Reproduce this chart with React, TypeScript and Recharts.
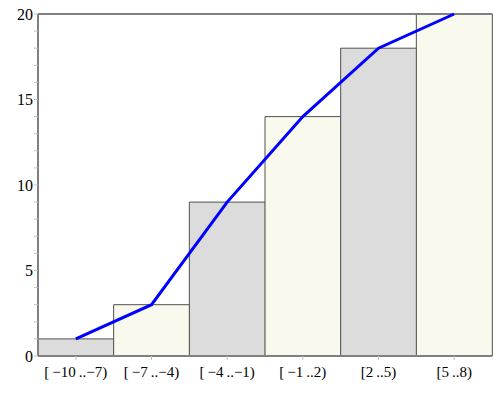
import { ComposedChart, Bar, Line, XAxis, YAxis, Cell, ReferenceLine } from "recharts";

document.body.style.margin = "0";

const categories = [
  "[\u2009\u221210\u2009..\u22127)",
  "[\u2009\u22127\u2009..\u22124)",
  "[\u2009\u22124\u2009..\u22121)",
  "[\u2009\u22121\u2009..2)",
  "[2\u2009..5)",
  "[5\u2009..8)",
];
const counts = [1, 3, 9, 14, 18, 20];
const yTicks = Array.from({ length: 21 }, (_, i) => i);
const fills = ["#dcdcdc", "#f9f9ee"];

const data = categories.map((c, i) => ({ bin: c, count: counts[i] }));

const serif = "'Liberation Serif', 'Times New Roman', serif";

const YTick = (props: any) => {
  const { x, y, payload } = props;
  if (payload.value % 5 !== 0) return null;
  return (
    <text x={x} y={y} dy="0.35em" textAnchor="end" fill="#000" style={{ fontFamily: serif, fontSize: 16 }}>
      {payload.value}
    </text>
  );
};

const XTick = (props: any) => {
  const { x, y, payload } = props;
  return (
    <text x={x} y={y} dy="0.8em" textAnchor="middle" fill="#000" style={{ fontFamily: serif, fontSize: 15 }}>
      {payload.value}
    </text>
  );
};

export default function App() {
  return (
    <ComposedChart
      width={500}
      height={400}
      data={data}
      barCategoryGap={0}
      margin={{ top: 14, right: 8, left: 8, bottom: 14 }}
      style={{ fontFamily: serif }}
    >
      <XAxis
        dataKey="bin"
        axisLine={{ stroke: "#808080", strokeWidth: 2 }}
        tickLine={{ stroke: "#c0c0c0" }}
        tickSize={4}
        tickMargin={5}
        height={30}
        interval={0}
        tick={<XTick />}
      />
      <YAxis
        domain={[0, 20]}
        ticks={yTicks}
        interval={0}
        width={30}
        axisLine={{ stroke: "#808080", strokeWidth: 2 }}
        tickLine={{ stroke: "#c0c0c0" }}
        tickSize={4}
        tickMargin={1}
        tick={<YTick />}
      />
      <YAxis yAxisId="r" orientation="right" width={0} domain={[0, 20]} tick={false} tickLine={false} axisLine={{ stroke: "#808080", strokeWidth: 2 }} />
      <ReferenceLine y={20} stroke="#808080" strokeWidth={2} />
      <Bar dataKey="count" stroke="#505050" strokeWidth={1} isAnimationActive={false}>
        {data.map((_, i) => (
          <Cell key={i} fill={fills[i % 2]} />
        ))}
      </Bar>
      <Line type="linear" dataKey="count" stroke="#0000ff" strokeWidth={3} dot={false} isAnimationActive={false} />
    </ComposedChart>
  );
}
